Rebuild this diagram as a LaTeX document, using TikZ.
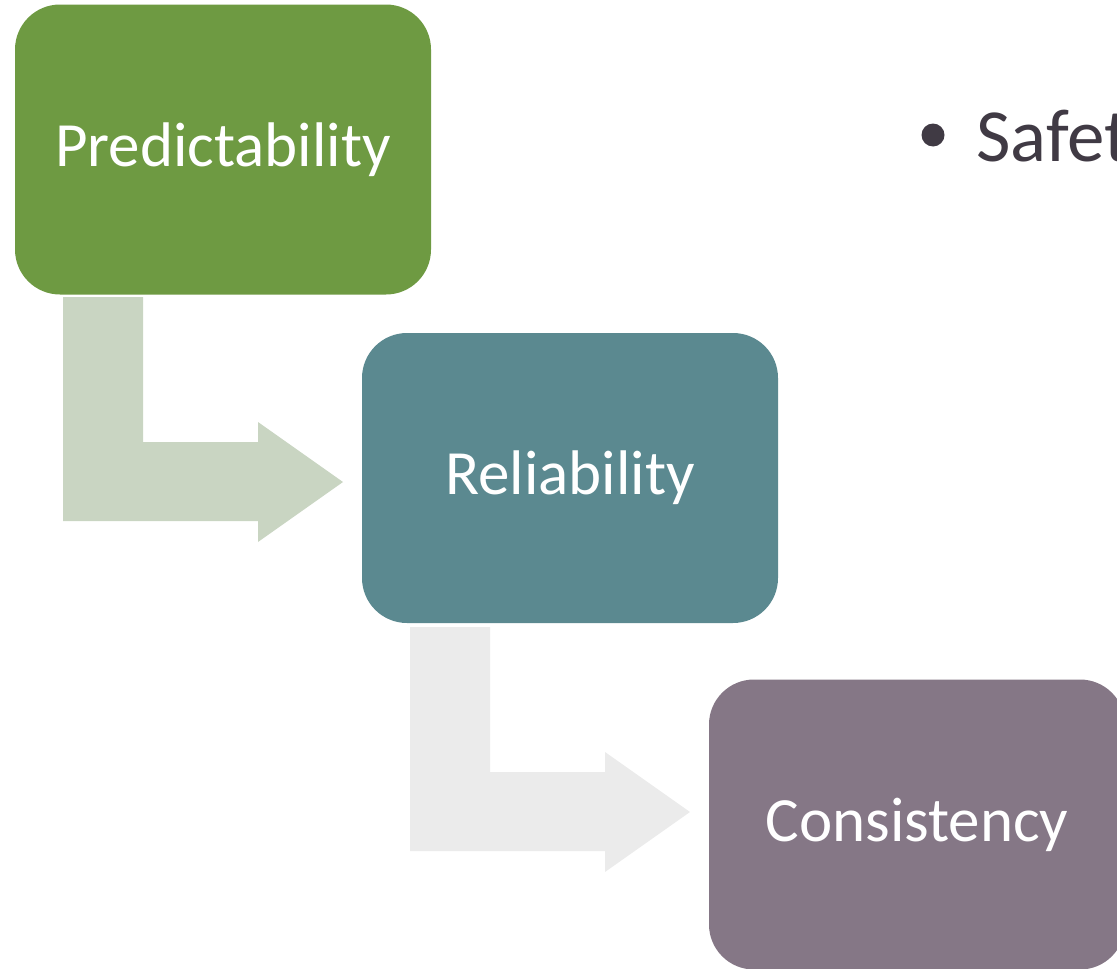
\documentclass[tikz,border=0pt]{standalone}
\usepackage{fontspec}
\setmainfont{Carlito}
\definecolor{stepgreen}{HTML}{6E9A42}
\definecolor{stepteal}{HTML}{5B8990}
\definecolor{stepmauve}{HTML}{857786}
\definecolor{arrowgreen}{HTML}{C9D5C2}
\definecolor{arrowgrey}{HTML}{EBEBEB}
\definecolor{bullettext}{HTML}{403A44}
\begin{document}
\begin{tikzpicture}[x=1pt,y=-1pt,
  stepbox/.style={rounded corners=45pt, minimum width=416pt, minimum height=290pt,
    inner sep=0pt, text=white, font=\fontsize{63}{74}\selectfont}]
\useasboundingbox (0,0) rectangle (1117,969);
\clip (0,0) rectangle (1117,969);

% bent arrows between the steps
\fill[arrowgreen] (63,297) -- (143,297) -- (143,442) -- (258,442) -- (258,422)
  -- (343,482) -- (258,542) -- (258,521) -- (63,521) -- cycle;
\fill[arrowgrey] (410,627) -- (490,627) -- (490,772) -- (605,772) -- (605,752)
  -- (690,812) -- (605,872) -- (605,851) -- (410,851) -- cycle;

% the three steps
\node[stepbox, fill=stepgreen] (pred) at (223,149.5) {Predictability};
\node[stepbox, fill=stepteal] (rel) at (570,478) {Reliability};
\node[stepbox, fill=stepmauve] (cons) at (917,824.5) {Consistency};

% bullet text on the right
\fill[bullettext] (933,135) circle (11.5);
\node[anchor=base west, inner sep=0pt, text=bullettext,
  font=\fontsize{75}{88}\selectfont] (safety) at (976,161) {Safety};
\end{tikzpicture}
\end{document}
